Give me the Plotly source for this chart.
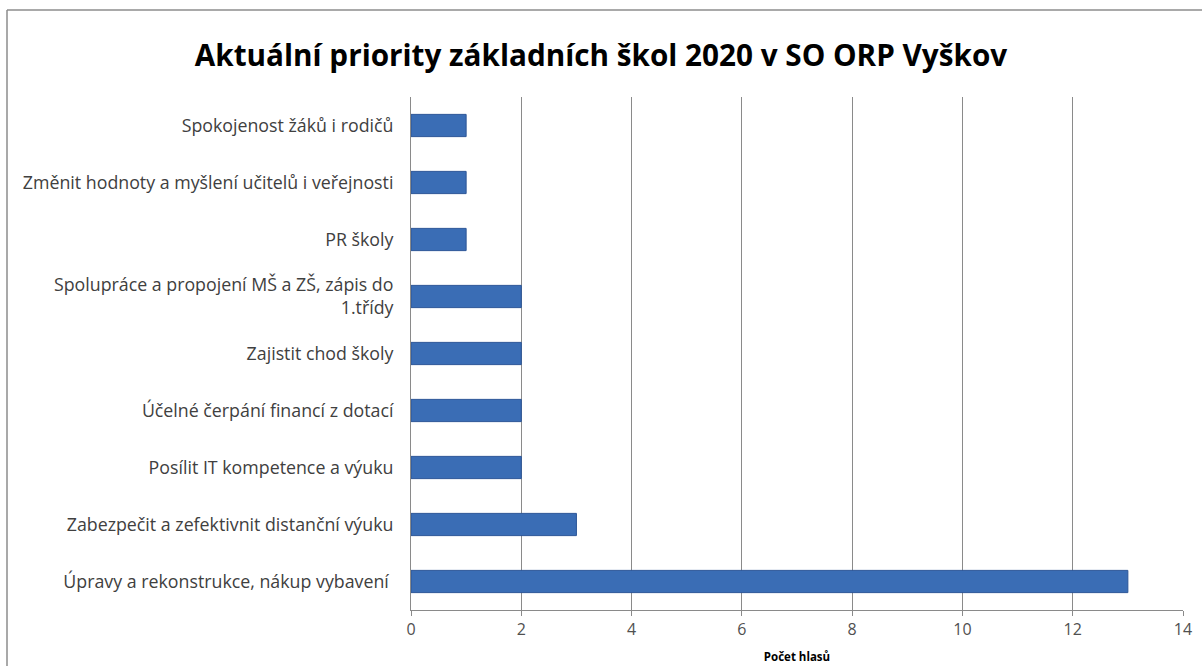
import plotly.graph_objects as go

categories = [
    "Spokojenost žáků i rodičů",
    "Změnit hodnoty a myšlení učitelů i veřejnosti",
    "PR školy",
    "Spolupráce a propojení MŠ a ZŠ, zápis do<br>1.třídy",
    "Zajistit chod školy",
    "Účelné čerpání financí z dotací",
    "Posílit IT kompetence a výuku",
    "Zabezpečit a zefektivnit distanční výuku",
    "Úpravy a rekonstrukce, nákup vybavení ",
]
votes = [1, 1, 1, 2, 2, 2, 2, 3, 13]
x_ticks = [0, 2, 4, 6, 8, 10, 12, 14]

FONT = "'Open Sans', Lato, sans-serif"

fig = go.Figure(
    go.Bar(
        y=categories,
        x=votes,
        orientation="h",
        marker=dict(color="#3A6DB5", line=dict(color="#2B5597", width=1)),
        width=0.39,
        hoverinfo="x+y",
    )
)

fig.update_layout(
    width=1202,
    height=666,
    margin=dict(l=411, r=19, t=97, b=56),
    paper_bgcolor="white",
    plot_bgcolor="white",
    showlegend=False,
    font=dict(family=FONT, size=14, color="#404040"),
    title=dict(
        text="<b>Aktuální priority základních škol 2020 v SO ORP Vyškov</b>",
        x=0.5,
        xanchor="center",
        y=0.916,
        yanchor="middle",
        font=dict(family=FONT, size=29.7, color="#000000"),
    ),
    xaxis=dict(
        range=[0, 14],
        tickvals=x_ticks,
        automargin=False,
        showgrid=True,
        gridcolor="#8A8A8A",
        gridwidth=1,
        zeroline=False,
        showline=True,
        linecolor="#8A8A8A",
        ticks="outside",
        ticklen=5,
        tickcolor="#8A8A8A",
        tickfont=dict(size=16, color="#505050"),
        title=dict(
            text="<b>Počet hlasů</b>",
            font=dict(size=11.5, color="#000000"),
            standoff=13,
        ),
    ),
    yaxis=dict(
        autorange="reversed",
        automargin=False,
        showgrid=False,
        showline=True,
        linecolor="#8A8A8A",
        ticks="",
        ticklabelstandoff=13,
        tickfont=dict(size=17.8, color="#404040"),
    ),
    shapes=[
        dict(type="line", xref="paper", yref="paper",
             x0=(7 - 411) / 772, x1=(1205 - 411) / 772,
             y0=(610 - 10) / 513, y1=(610 - 10) / 513,
             line=dict(color="#8C8C8C", width=1.5)),
        dict(type="line", xref="paper", yref="paper",
             x0=(7 - 411) / 772, x1=(7 - 411) / 772,
             y0=(610 - 10) / 513, y1=(610 - 670) / 513,
             line=dict(color="#8C8C8C", width=1.5)),
    ],
)

fig.write_html(
    "out.html",
    config={"displayModeBar": False},
    post_script="document.body.style.margin='0';document.body.style.padding='0';",
)
